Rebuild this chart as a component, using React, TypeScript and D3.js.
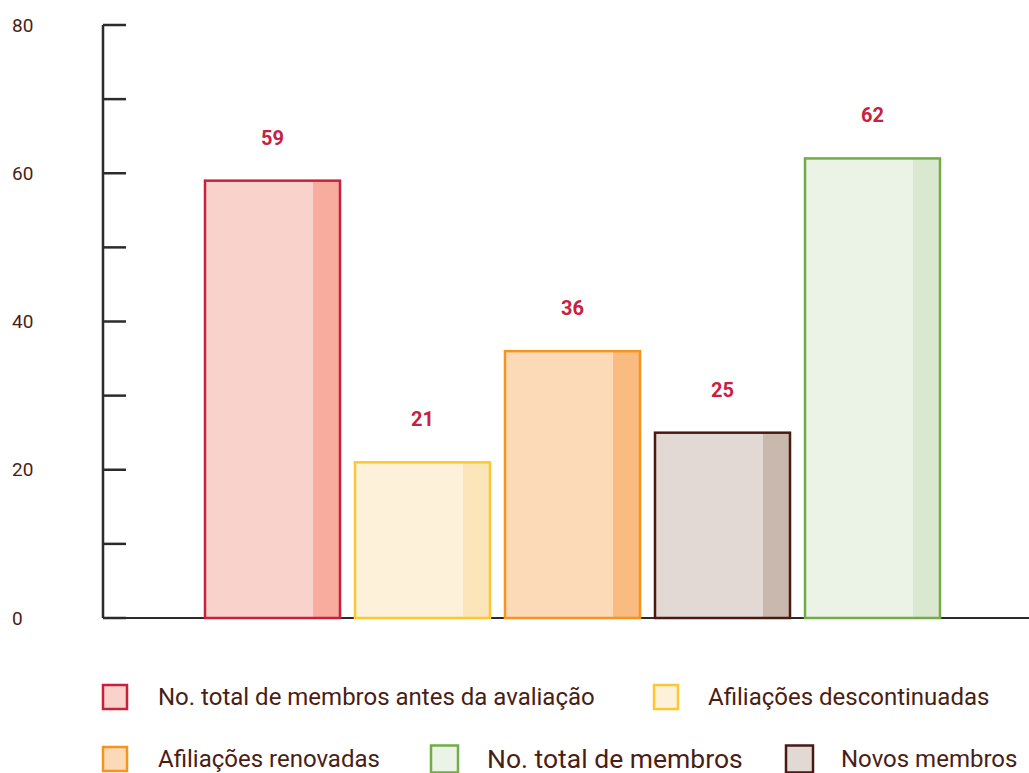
import React from 'react'
import * as d3 from "d3";

const categories = [
  "No. total de membros antes da avaliação",
  "Afiliações descontinuadas",
  "Afiliações renovadas",
  "Novos membros",
  "No. total de membros",
];
const values = [59, 21, 36, 25, 62];
const barOrder = [0, 1, 2, 3, 4];
const strokes = ["#c8203f", "#fdc82f", "#f7941d", "#4a1a12", "#70ad47"];
const fills = ["#f9d3cb", "#fdf1d9", "#fcdab8", "#e2d9d4", "#ebf2e6"];
const strips = ["#f7ac9e", "#fce5b8", "#fabb80", "#c9b8ae", "#dbe8d0"];
const tickLabels = [0, 20, 40, 60, 80];

const width = 1029;
const height = 773;
const textColor = "#4a1e14";

function drawChart(svgRef: React.RefObject<SVGSVGElement>) {
  const svg = d3.select(svgRef.current)
      .attr("width", width)
      .attr("height", height)
      .attr("font-family", "Roboto, sans-serif");
  svg.selectAll("*").remove();

  const y = d3.scaleLinear().domain([0, 80]).range([618, 25]);
  const x = d3.scaleBand<number>()
    .domain(barOrder)
    .range([197.5, 947.5])
    .paddingInner(0.1)
    .paddingOuter(0.05);

  const axisX = 103;

  // baseline
  svg.append("line")
      .attr("x1", axisX).attr("x2", width)
      .attr("y1", y(0)).attr("y2", y(0))
      .attr("stroke", "#2b2b2b")
      .attr("stroke-width", 2);

  // y axis line
  svg.append("line")
      .attr("x1", axisX).attr("x2", axisX)
      .attr("y1", y(80)).attr("y2", y(0))
      .attr("stroke", "#2b2b2b")
      .attr("stroke-width", 2.5);

  svg.append("g")
    .selectAll("line")
    .data(d3.range(0, 81, 10))
    .join("line")
      .attr("x1", axisX).attr("x2", axisX + 23)
      .attr("y1", d => y(d)).attr("y2", d => y(d))
      .attr("stroke", "#2b2b2b")
      .attr("stroke-width", 2.5);

  svg.append("g")
    .selectAll("text")
    .data(tickLabels)
    .join("text")
      .attr("x", 12)
      .attr("y", d => y(d))
      .attr("dy", "0.35em")
      .attr("font-size", 19)
      .attr("fill", textColor)
      .text(d => d);

  const bw = x.bandwidth();
  const bars = svg.append("g")
    .selectAll("g")
    .data(barOrder)
    .join("g");

  bars.append("rect")
      .attr("x", d => x(d)!)
      .attr("y", d => y(values[d]))
      .attr("width", bw)
      .attr("height", d => y(0) - y(values[d]))
      .attr("fill", d => fills[d]);

  bars.append("rect")
      .attr("x", d => x(d)! + bw * 0.8)
      .attr("y", d => y(values[d]))
      .attr("width", bw * 0.2)
      .attr("height", d => y(0) - y(values[d]))
      .attr("fill", d => strips[d]);

  bars.append("rect")
      .attr("x", d => x(d)!)
      .attr("y", d => y(values[d]))
      .attr("width", bw)
      .attr("height", d => y(0) - y(values[d]))
      .attr("fill", "none")
      .attr("stroke", d => strokes[d])
      .attr("stroke-width", 2.5);

  bars.append("text")
      .attr("x", d => x(d)! + bw / 2)
      .attr("y", d => y(values[d]) - 43)
      .attr("dy", "0.35em")
      .attr("text-anchor", "middle")
      .attr("font-size", 20)
      .attr("font-weight", "bold")
      .attr("fill", "#c8203f")
      .text(d => values[d]);

  // legend
  const legend = [
    { i: 0, sx: 103, ty: 697, size: 24, tx: 158, fs: 24 },
    { i: 1, sx: 654, ty: 697, size: 24, tx: 708, fs: 24 },
    { i: 2, sx: 103, ty: 759, size: 24, tx: 158, fs: 24 },
    { i: 4, sx: 431, ty: 759, size: 27, tx: 487, fs: 26.5 },
    { i: 3, sx: 786, ty: 759, size: 27, tx: 841, fs: 24 },
  ];

  const lg = svg.append("g")
    .selectAll("g")
    .data(legend)
    .join("g");

  lg.append("rect")
      .attr("x", d => d.sx)
      .attr("y", d => d.ty - d.size / 2)
      .attr("width", d => d.size)
      .attr("height", d => d.size)
      .attr("fill", d => fills[d.i])
      .attr("stroke", d => strokes[d.i])
      .attr("stroke-width", 2.5);

  lg.append("text")
      .attr("x", d => d.tx)
      .attr("y", d => d.ty)
      .attr("dy", "0.35em")
      .attr("font-size", d => d.fs)
      .attr("fill", textColor)
      .text(d => categories[d.i]);

  return svg.node();
}

const App: React.FunctionComponent = () => {
  const svg = React.useRef<SVGSVGElement>(null);

  React.useEffect(() => {
    drawChart(svg);
  }, [svg]);

  return (
    <div id="chart" style={{ position: "absolute", left: 0, top: 0 }}>
      <svg ref={svg} style={{ display: "block" }} />
    </div>
  );
};

export default App
